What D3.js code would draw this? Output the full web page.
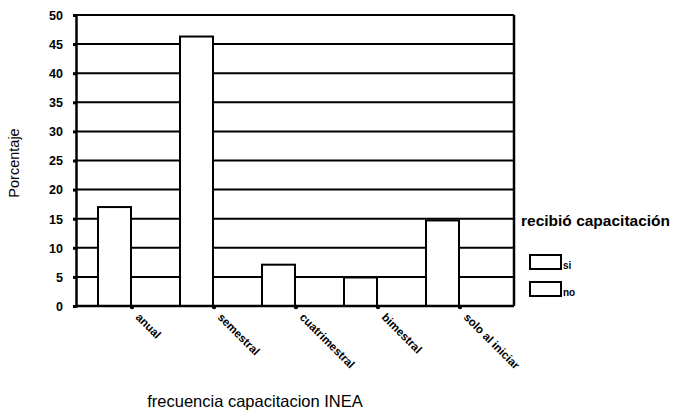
<!DOCTYPE html>
<html>
<head>
<meta charset="utf-8">
<script src="https://cdn.jsdelivr.net/npm/d3@7"></script>
<style>
  body { margin: 0; background: #fff; }
  text { font-family: "Liberation Sans", Arial, sans-serif; fill: #000; }
</style>
</head>
<body>
<div id="chart"></div>
<script>
(function () {

  // data
  const categories = ["anual", "semestral", "cuatrimestral", "bimestral", "solo al iniciar"];
  const series = ["si", "no"];
  const siValues = [17, 46.3, 7.1, 4.9, 14.7];
  const noValues = [0, 0, 0, 0, 0];
  const yTicks = [0, 5, 10, 15, 20, 25, 30, 35, 40, 45, 50];

  const W = 680, H = 418;
  const plot = { left: 76, right: 514, top: 15, bottom: 306 };

  const svg = d3.select("#chart")
    .append("svg")
    .attr("width", W)
    .attr("height", H);

  const y = d3.scaleLinear().domain([0, 50]).range([plot.bottom, plot.top]);

  // category centres sit at the tick marks, step ~82px
  const x = d3.scaleBand()
    .domain(categories)
    .range([91, 501])
    .padding(0);

  const xSub = d3.scaleBand()
    .domain(series)
    .range([-34, 34]);

  // gridlines
  svg.append("g")
    .selectAll("line")
    .data(yTicks)
    .enter()
    .append("line")
    .attr("x1", plot.left)
    .attr("x2", plot.right)
    .attr("y1", d => y(d))
    .attr("y2", d => y(d))
    .attr("stroke", "#000")
    .attr("stroke-width", 2);

  // right border
  svg.append("line")
    .attr("x1", plot.right).attr("x2", plot.right)
    .attr("y1", plot.top).attr("y2", plot.bottom)
    .attr("stroke", "#000").attr("stroke-width", 2.5);

  // bars
  const rows = categories.map((c, i) => ({ cat: c, si: siValues[i], no: noValues[i] }));
  const groups = svg.append("g")
    .selectAll("g")
    .data(rows)
    .enter()
    .append("g")
    .attr("transform", d => `translate(${x(d.cat) + x.bandwidth() / 2},0)`);

  groups.selectAll("rect")
    .data(d => series.map(s => ({ s: s, v: d[s] })).filter(e => e.v > 0))
    .enter()
    .append("rect")
    .attr("x", d => xSub(d.s))
    .attr("width", xSub.bandwidth() - 1)
    .attr("y", d => y(d.v))
    .attr("height", d => y(0) - y(d.v))
    .attr("fill", "#fff")
    .attr("stroke", "#000")
    .attr("stroke-width", 2);

  // y axis
  const yAxis = svg.append("g")
    .attr("transform", `translate(${plot.left},0)`)
    .call(d3.axisLeft(y).tickValues(yTicks).tickSize(3).tickPadding(10));
  yAxis.select(".domain").attr("stroke-width", 2.5);
  yAxis.selectAll(".tick line").attr("stroke-width", 3);
  yAxis.selectAll("text")
    .style("font-size", "12.5px")
    .style("font-weight", "bold")
    .attr("dy", "0.35em");

  // x axis
  const xAxis = svg.append("g")
    .attr("transform", `translate(0,${plot.bottom})`);
  xAxis.append("line")
    .attr("x1", plot.left).attr("x2", plot.right)
    .attr("y1", 0).attr("y2", 0)
    .attr("stroke", "#000").attr("stroke-width", 2.5);
  xAxis.selectAll("circle")
    .data(categories)
    .enter()
    .append("circle")
    .attr("cx", d => x(d) + x.bandwidth() / 2)
    .attr("cy", 1)
    .attr("r", 2.2)
    .attr("fill", "#000");
  xAxis.selectAll("text")
    .data(categories)
    .enter()
    .append("text")
    .attr("transform", d => `translate(${x(d) + x.bandwidth() / 2 + 3},${12}) rotate(45)`)
    .style("font-size", "11.5px")
    .style("font-weight", "bold")
    .text(d => d);

  // axis titles
  svg.append("text")
    .attr("transform", `translate(19,${163}) rotate(-90)`)
    .attr("text-anchor", "middle")
    .style("font-size", "14.5px")
    .text("Porcentaje");

  svg.append("text")
    .attr("x", 255)
    .attr("y", 407)
    .attr("text-anchor", "middle")
    .style("font-size", "16.5px")
    .text("frecuencia capacitacion INEA");

  // legend
  svg.append("text")
    .attr("x", 521)
    .attr("y", 226)
    .style("font-size", "15.5px")
    .style("font-weight", "bold")
    .text("recibió capacitación");

  const legend = svg.append("g")
    .selectAll("g")
    .data(series)
    .enter()
    .append("g")
    .attr("transform", (d, i) => `translate(530,${255 + i * 27})`);
  legend.append("rect")
    .attr("width", 31)
    .attr("height", 14)
    .attr("fill", "#fff")
    .attr("stroke", "#000")
    .attr("stroke-width", 2);
  legend.append("text")
    .attr("x", 33)
    .attr("y", 14)
    .style("font-size", "10px")
    .style("font-weight", "bold")
    .text(d => d);

})();
</script>
</body>
</html>
